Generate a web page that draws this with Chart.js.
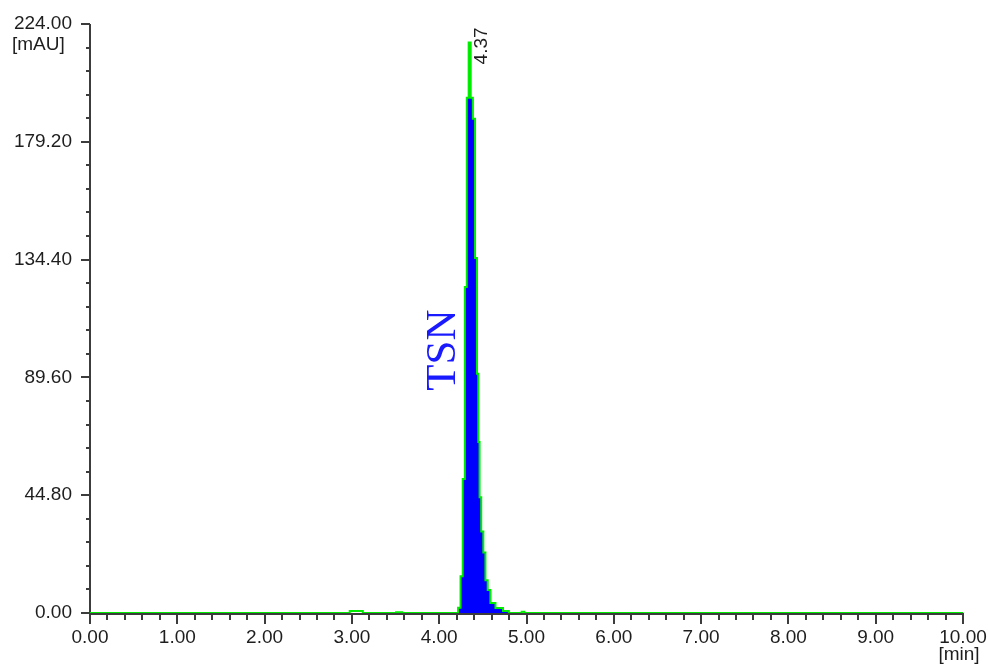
<!DOCTYPE html>
<html>
<head>
<meta charset="utf-8">
<title>TSN chromatogram</title>
<script src="https://cdn.jsdelivr.net/npm/chart.js@4.4.1/dist/chart.umd.min.js"></script>
<style>
  html, body { margin: 0; padding: 0; background: #ffffff; }
  #wrap { width: 988px; height: 667px; }
</style>
</head>
<body>
<div id="wrap"><canvas id="chrom" width="988" height="667"></canvas></div>
<script>
// Retention time [min] and detector signal [mAU]
const timeMin = [0, 2.95, 3.0, 3.1, 3.15, 3.49, 3.52, 3.56, 3.59, 4.2,
  4.232, 4.257, 4.282, 4.306, 4.326, 4.349, 4.373, 4.398, 4.423, 4.442,
  4.455, 4.470, 4.493, 4.518, 4.541, 4.570, 4.604, 4.685, 4.776, 4.82,
  4.93, 4.96, 4.99, 10];
const absMAU = [0, 0, 0.8, 0.8, 0, 0, 0.3, 0.3, 0, 0,
  2, 14, 51, 124, 196, 217, 196, 188, 135, 91,
  65, 44, 31, 23, 12.5, 8.7, 3.8, 1.9, 0.8, 0,
  0, 0.5, 0, 0];

// peak window that gets the blue area
const peakStart = 4.2;
const peakEnd = 4.82;

// axis ticks
const xTicks = [0, 1, 2, 3, 4, 5, 6, 7, 8, 9, 10];
const yTicks = [0, 44.8, 89.6, 134.4, 179.2, 224];

// annotations
const peakName = "TSN";
const peakRT = "4.37";

const AXIS_COLOR = "#3c3c3c";
const TEXT_COLOR = "#1e1e1e";
const LINE_GREEN = "#00ee00";
const FILL_BLUE = "#0000ff";
const FONT = "Liberation Sans, Arial, sans-serif";

const tracePts = timeMin.map((t, i) => ({ x: t, y: absMAU[i] }));
const peakPts = tracePts.filter(p => p.x >= peakStart && p.x <= peakEnd);

/**
 * Axis lines plus major / minor tick marks (4 minors between majors)
 */
const axisPlugin = {
  id: "axisTicks",
  beforeDatasetsDraw(chart) {
    const { ctx, chartArea: a, scales: { x, y } } = chart;
    const base = a.bottom + 1;
    ctx.save();
    ctx.strokeStyle = AXIS_COLOR;
    ctx.lineWidth = 2;
    ctx.beginPath();
    ctx.moveTo(a.left, y.getPixelForValue(yTicks[yTicks.length - 1]));
    ctx.lineTo(a.left, base + 1);
    ctx.moveTo(a.left, base);
    ctx.lineTo(x.getPixelForValue(xTicks[xTicks.length - 1]) + 1, base);

    for (let i = 0; i < xTicks.length - 1; i++) {
      const step = (xTicks[i + 1] - xTicks[i]) / 5;
      for (let k = 0; k <= 5; k++) {
        const px = Math.round(x.getPixelForValue(xTicks[i] + k * step));
        const len = (k === 0 || k === 5) ? 10 : 6;
        ctx.moveTo(px, base);
        ctx.lineTo(px, base + len);
      }
    }
    for (let i = 0; i < yTicks.length - 1; i++) {
      const step = (yTicks[i + 1] - yTicks[i]) / 5;
      for (let k = 0; k <= 5; k++) {
        const py = Math.round(y.getPixelForValue(yTicks[i] + k * step));
        const len = (k === 0 || k === 5) ? 9 : 4;
        ctx.moveTo(a.left, py);
        ctx.lineTo(a.left - len, py);
      }
    }
    ctx.stroke();
    ctx.restore();
  },
  afterDatasetsDraw(chart) {
    const { ctx, chartArea: a, scales: { x, y } } = chart;
    ctx.save();

    // unit labels
    ctx.fillStyle = TEXT_COLOR;
    ctx.font = "19px " + FONT;
    ctx.textBaseline = "middle";
    ctx.textAlign = "left";
    ctx.fillText("[mAU]", 12, y.getPixelForValue(yTicks[yTicks.length - 1]) + 21);
    ctx.textAlign = "center";
    ctx.fillText("[min]", x.getPixelForValue(xTicks[xTicks.length - 1]) - 4, a.bottom + 42);

    // retention time above the apex
    let top = tracePts[0];
    for (const p of tracePts) if (p.y > top.y) top = p;
    ctx.translate(x.getPixelForValue(top.x) + 12, y.getPixelForValue(top.y) + 22);
    ctx.rotate(-Math.PI / 2);
    ctx.textAlign = "left";
    ctx.fillText(peakRT, 0, 0);
    ctx.restore();

    // compound name
    ctx.save();
    ctx.translate(x.getPixelForValue(4.055), y.getPixelForValue(100));
    ctx.rotate(-Math.PI / 2);
    ctx.fillStyle = "#1a1aff";
    ctx.font = "43px Liberation Serif, Times New Roman, serif";
    ctx.textAlign = "center";
    ctx.textBaseline = "middle";
    ctx.fillText(peakName, 0, 0);
    ctx.restore();
  },
};

new Chart(document.getElementById("chrom"), {
  type: "line",
  data: {
    datasets: [
      {
        label: "trace",
        data: tracePts,
        borderColor: LINE_GREEN,
        borderWidth: 2,
        pointRadius: 0,
        stepped: "middle",
        fill: false,
        order: 0,
      },
      {
        label: "peak",
        data: peakPts,
        borderWidth: 0,
        borderColor: FILL_BLUE,
        backgroundColor: FILL_BLUE,
        pointRadius: 0,
        stepped: "middle",
        fill: "origin",
        order: 1,
      },
    ],
  },
  options: {
    responsive: false,
    animation: false,
    layout: { padding: { left: 0, right: 25, top: 24, bottom: 0 } },
    plugins: {
      legend: { display: false },
      tooltip: { enabled: false },
    },
    scales: {
      x: {
        type: "linear",
        min: 0,
        max: 10,
        border: { display: false },
        grid: { display: false, drawTicks: false },
        afterBuildTicks: (s) => { s.ticks = xTicks.map(v => ({ value: v })); },
        afterFit: (s) => { s.height = 54; s.paddingLeft = 0; s.paddingRight = 0; },
        ticks: {
          padding: 13,
          maxRotation: 0,
          color: TEXT_COLOR,
          font: { family: FONT, size: 19 },
          callback: (v) => Number(v).toFixed(2),
        },
      },
      y: {
        type: "linear",
        min: 0,
        max: 224,
        border: { display: false },
        grid: { display: false, drawTicks: false },
        afterBuildTicks: (s) => { s.ticks = yTicks.map(v => ({ value: v })); },
        afterFit: (s) => { s.width = 90; s.paddingTop = 0; s.paddingBottom = 0; },
        ticks: {
          padding: 18,
          color: TEXT_COLOR,
          font: { family: FONT, size: 19 },
          callback: (v) => Number(v).toFixed(2),
        },
      },
    },
  },
  plugins: [axisPlugin],
});
</script>
</body>
</html>
